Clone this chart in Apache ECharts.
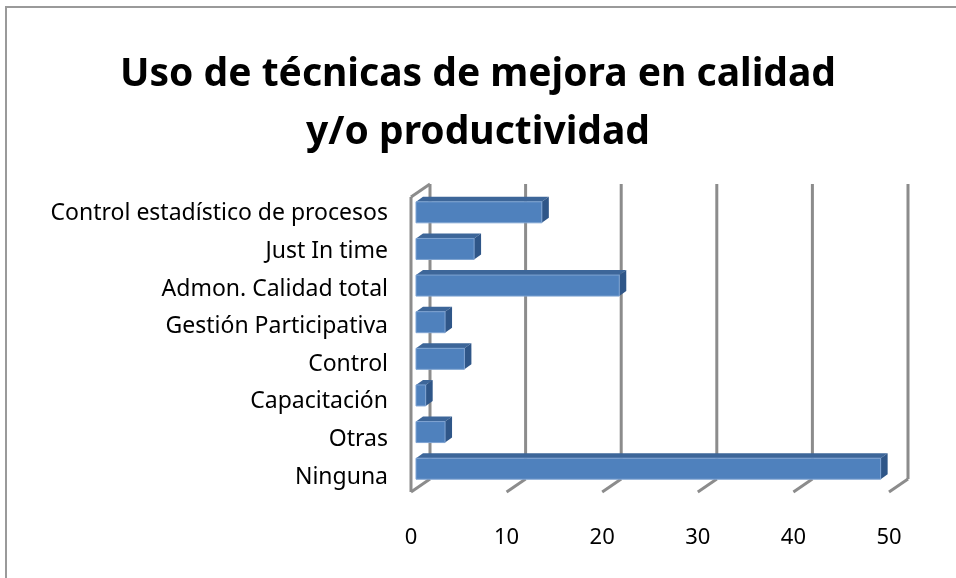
<!DOCTYPE html>
<html>
<head>
<meta charset="utf-8">
<style>
  html, body { margin: 0; padding: 0; background: #fff; }
  #chart { width: 956px; height: 578px; }
</style>
<script src="https://cdn.jsdelivr.net/npm/echarts@6/dist/echarts.min.js"></script>
</head>
<body>
<div id="chart"></div>
<script>
const titleText = 'Uso de técnicas de mejora en calidad\ny/o productividad'
const categories = [
  'Control estadístico de procesos',
  'Just In time',
  'Admon. Calidad total',
  'Gestión Participativa',
  'Control',
  'Capacitación',
  'Otras',
  'Ninguna'
]
const values = [13, 6, 21, 3, 5, 1, 3, 48]
const xTicks = [0, 10, 20, 30, 40, 50]

const FONT = '"Noto Sans", "Open Sans", sans-serif'
// desplazamiento de la pared del fondo (efecto 3D)
const DEPTH_X = 19
const DEPTH_Y = -13
const WALL = { stroke: '#8c8c8c', lineWidth: 3 }

const chart = echarts.init(document.getElementById('chart'))

const renderFrame = (params, api) => {
  const cs = params.coordSys
  const v = api.value(0)
  const xf = api.coord([v, 0])[0]
  const xb = xf + DEPTH_X
  const yTop = cs.y
  const yBot = cs.y + cs.height
  const children = [
    { type: 'line', shape: { x1: xb, y1: yTop + DEPTH_Y, x2: xb, y2: yBot + DEPTH_Y }, style: WALL },
    { type: 'line', shape: { x1: xb, y1: yBot + DEPTH_Y, x2: xf, y2: yBot }, style: WALL }
  ]
  if (v === 0) {
    children.push(
      { type: 'line', shape: { x1: xf, y1: yTop, x2: xf, y2: yBot }, style: WALL },
      { type: 'line', shape: { x1: xf, y1: yTop, x2: xb, y2: yTop + DEPTH_Y }, style: WALL }
    )
  }
  return { type: 'group', children }
}

const renderBar = (params, api) => {
  const idx = api.value(1)
  const p0 = api.coord([0, idx])
  const p1 = api.coord([api.value(0), idx])
  const h = 21
  const dx = 7
  const dy = 5
  const x0 = p0[0]
  const x1 = p1[0]
  const yt = p0[1] - h / 2
  const yb = p0[1] + h / 2
  return {
    type: 'group',
    children: [
      {
        type: 'polygon',
        shape: { points: [[x0, yt], [x1, yt], [x1 + dx, yt - dy], [x0 + dx, yt - dy]] },
        style: { fill: '#3d6699' }
      },
      {
        type: 'polygon',
        shape: { points: [[x1, yt], [x1 + dx, yt - dy], [x1 + dx, yb - dy], [x1, yb]] },
        style: { fill: '#2f5688' }
      },
      {
        type: 'rect',
        shape: { x: x0, y: yt, width: x1 - x0, height: h },
        style: { fill: '#4f81bd', stroke: '#7ea3d2', lineWidth: 1 }
      }
    ]
  }
}

const option = {
  animation: false,
  title: {
    text: titleText,
    left: 'center',
    top: 46,
    padding: 0,
    textStyle: {
      fontFamily: FONT,
      fontSize: 39,
      fontWeight: 'bold',
      color: '#000',
      lineHeight: 58
    }
  },
  graphic: [
    {
      type: 'rect',
      shape: { x: 6, y: 7, width: 1000, height: 700 },
      style: { fill: 'none', stroke: '#9a9a9a', lineWidth: 2 }
    }
  ],
  grid: [
    // plano frontal (marco y etiquetas del eje x)
    { left: 411, top: 197, width: 478, height: 295 },
    // barras
    { left: 416, top: 194, width: 484, height: 293 },
    // etiquetas de categorías
    { left: 397, top: 195, width: 1, height: 301 }
  ],
  xAxis: [
    {
      gridIndex: 0,
      type: 'value',
      min: 0,
      max: 50,
      interval: 10,
      axisLine: { show: false },
      axisTick: { show: false },
      splitLine: { show: false },
      axisLabel: { color: '#000', fontFamily: FONT, fontSize: 22, margin: 35 }
    },
    { gridIndex: 1, type: 'value', min: 0, max: 50, show: false },
    { gridIndex: 2, type: 'value', min: 0, max: 1, show: false }
  ],
  yAxis: [
    { gridIndex: 0, type: 'category', data: categories, inverse: true, show: false },
    { gridIndex: 1, type: 'category', data: categories, inverse: true, show: false },
    {
      gridIndex: 2,
      type: 'category',
      data: categories,
      inverse: true,
      axisLine: { show: false },
      axisTick: { show: false },
      axisLabel: { color: '#000', fontFamily: FONT, fontSize: 23, margin: 9 }
    }
  ],
  series: [
    {
      name: 'marco',
      type: 'custom',
      xAxisIndex: 0,
      yAxisIndex: 0,
      data: xTicks.map(v => [v]),
      encode: { x: 0 },
      renderItem: renderFrame,
      silent: true,
      z: 1
    },
    {
      name: 'Uso',
      type: 'custom',
      xAxisIndex: 1,
      yAxisIndex: 1,
      data: values.map((v, i) => [v, i]),
      encode: { x: 0, y: 1 },
      renderItem: renderBar,
      z: 2
    }
  ]
}

chart.setOption(option)
</script>
</body>
</html>
